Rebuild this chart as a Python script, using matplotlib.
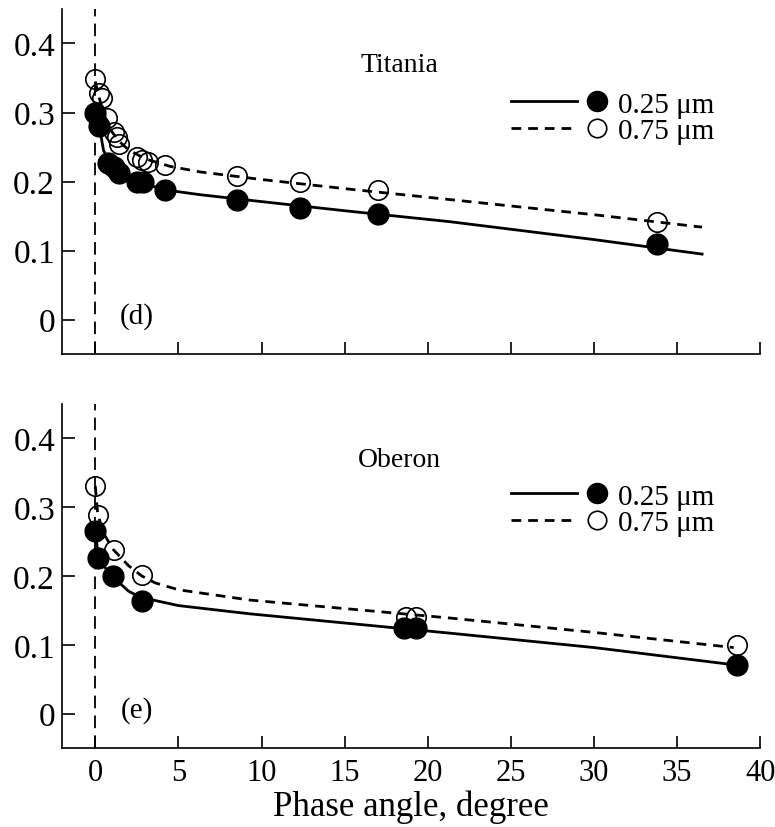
import numpy as np
import matplotlib
matplotlib.use("Agg")
import matplotlib.pyplot as plt
from matplotlib.lines import Line2D
from matplotlib.legend_handler import HandlerBase

plt.rcParams["font.family"] = ["Liberation Serif", "DejaVu Serif"]

# Titania: measured points
tit_ang_025 = [0.0, 0.25, 0.75, 1.1, 1.4, 2.5, 2.9, 4.2, 8.55, 12.3, 17.0, 33.8]
tit_ref_025 = [0.300, 0.280, 0.227, 0.221, 0.213, 0.200, 0.200, 0.188, 0.173, 0.162, 0.153, 0.110]
tit_ang_075 = [0.0, 0.2, 0.4, 0.7, 1.1, 1.3, 1.4, 2.5, 2.8, 3.2, 4.2, 8.55, 12.3, 17.0, 33.8]
tit_ref_075 = [0.348, 0.328, 0.321, 0.292, 0.272, 0.265, 0.255, 0.236, 0.231, 0.229, 0.224,
               0.208, 0.199, 0.188, 0.141]

# Titania: model curves
tit_fit_x_025 = [0.0, 0.3, 0.5, 1.0, 2.0, 3.0, 4.5, 6.3, 10.0, 15.3, 21.3, 30.0, 36.5]
tit_fit_y_025 = [0.300, 0.272, 0.245, 0.222, 0.205, 0.196, 0.187, 0.181, 0.171, 0.157, 0.142, 0.116, 0.095]
tit_fit_x_075 = [0.0, 0.2, 0.5, 1.0, 1.5, 2.0, 3.0, 4.5, 6.3, 10.0, 15.3, 21.3, 30.0, 36.5]
tit_fit_y_075 = [0.345, 0.325, 0.298, 0.272, 0.257, 0.246, 0.233, 0.222, 0.214, 0.203, 0.189, 0.174,
                 0.152, 0.134]

# Oberon: measured points
obe_ang_025 = [0.0, 0.14, 1.04, 2.8, 18.6, 19.3, 38.6]
obe_ref_025 = [0.266, 0.226, 0.200, 0.163, 0.124, 0.124, 0.071]
obe_ang_075 = [0.0, 0.14, 1.1, 2.8, 18.7, 19.3, 38.6]
obe_ref_075 = [0.331, 0.288, 0.238, 0.202, 0.140, 0.140, 0.099]

# Oberon: model curves
obe_fit_x_025 = [0.0, 0.15, 0.5, 1.0, 2.0, 2.8, 3.3, 5.0, 9.3, 15.3, 21.3, 30.0, 38.4]
obe_fit_y_025 = [0.266, 0.235, 0.215, 0.200, 0.178, 0.168, 0.166, 0.157, 0.145, 0.131, 0.117, 0.096, 0.071]
obe_fit_x_075 = [0.0, 0.15, 0.5, 1.1, 2.0, 2.8, 3.6, 5.0, 9.3, 15.3, 21.3, 30.0, 38.4]
obe_fit_y_075 = [0.331, 0.290, 0.262, 0.238, 0.215, 0.200, 0.190, 0.180, 0.165, 0.152, 0.139, 0.118, 0.096]

xticks = [0, 5, 10, 15, 20, 25, 30, 35, 40]
yticks = [0, 0.1, 0.2, 0.3, 0.4]
ytick_labels = ["0", "0.1", "0.2", "0.3", "0.4"]


class LineThenMarker(HandlerBase):
    # legend key: a short line segment followed by the marker
    def create_artists(self, legend, orig_handle, xdescent, ydescent, width, height,
                       fontsize, trans):
        line, mark = orig_handle
        y = height / 2 - ydescent
        x0 = -xdescent
        seg = Line2D([x0, x0 + width * 0.70], [y, y], color="black",
                     linestyle=line.get_linestyle(), linewidth=line.get_linewidth())
        if line.get_linestyle() == "--":
            seg.set_dashes((3.5, 2.5))
        pt = Line2D([x0 + width * 0.92], [y], marker="o", linestyle="none",
                    markersize=mark.get_markersize() * 0.95,
                    markerfacecolor=mark.get_markerfacecolor(),
                    markeredgecolor="black", markeredgewidth=1.2)
        seg.set_transform(trans)
        pt.set_transform(trans)
        return [seg, pt]


fig = plt.figure(figsize=(7.75, 8.28), dpi=100)
ax1 = fig.add_axes([0.080, 0.571, 0.901, 0.417])
ax2 = fig.add_axes([0.080, 0.0954, 0.901, 0.4155])

panels = [
    (ax1, "Titania", "(d)", 0.762, tit_ang_025, tit_ref_025, tit_ang_075, tit_ref_075,
     tit_fit_x_025, tit_fit_y_025, tit_fit_x_075, tit_fit_y_075),
    (ax2, "Oberon", "(e)", 0.770, obe_ang_025, obe_ref_025, obe_ang_075, obe_ref_075,
     obe_fit_x_025, obe_fit_y_025, obe_fit_x_075, obe_fit_y_075),
]

for (ax, name, tag, leg_y, xa, ya, xb, yb, fxa, fya, fxb, fyb) in panels:
    ax.axvline(0, color="black", linewidth=1.3, dashes=(7, 4), zorder=1)
    la, = ax.plot(fxa, fya, color="black", linewidth=2.0, zorder=2)
    lb, = ax.plot(fxb, fyb, color="black", linewidth=2.0, dashes=(3.5, 2.5), zorder=2)
    ma, = ax.plot(xa, ya, "o", markersize=15, markerfacecolor="black",
                  markeredgecolor="black", zorder=3)
    mb, = ax.plot(xb, yb, "o", markersize=14, markerfacecolor="none",
                  markeredgecolor="black", markeredgewidth=1.2, zorder=4)

    ax.text(18.3, 0.369, name, fontsize=20, ha="center", va="center")
    ax.text(2.5, 0.006, tag, fontsize=21, ha="center", va="center")

    ax.legend([(la, ma), (lb, mb)], ["0.25 \u03bcm", "0.75 \u03bcm"],
              handler_map={tuple: LineThenMarker()}, loc="upper left",
              bbox_to_anchor=(0.643, leg_y), frameon=False, fontsize=21,
              handlelength=3.22, handletextpad=0.45, labelspacing=0.0,
              borderpad=0, borderaxespad=0)

    ax.set_xlim(-2, 40)
    ax.set_ylim(-0.05, 0.45)
    ax.set_xticks(xticks)
    ax.set_yticks(yticks)
    ax.set_yticklabels(ytick_labels)
    ax.spines["top"].set_visible(False)
    ax.spines["right"].set_visible(False)
    for s in ("left", "bottom"):
        ax.spines[s].set_linewidth(1.2)
    ax.tick_params(direction="in", length=9, width=1.2)
    ax.tick_params(axis="y", labelsize=24, pad=5)
    ax.tick_params(axis="x", labelsize=22, pad=7)

ax1.tick_params(axis="x", labelbottom=False)
ax2.set_xlabel("Phase angle, degree", fontsize=25, labelpad=2)

fig.savefig("out.png", dpi=100)
